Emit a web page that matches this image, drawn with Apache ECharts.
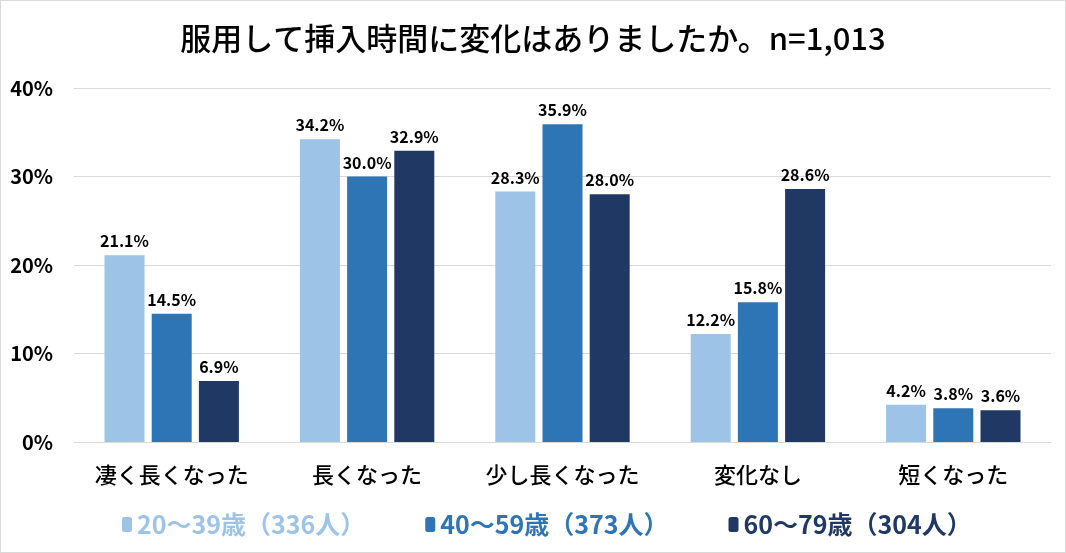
<!DOCTYPE html>
<html>
<head>
<meta charset="utf-8">
<script src="https://cdn.jsdelivr.net/npm/echarts@6/dist/echarts.min.js"></script>
<style>
  html, body { margin: 0; padding: 0; background: #fff; }
  #chart { width: 1066px; height: 553px; box-sizing: border-box; border: 1px solid #d9d9d9; }
</style>
</head>
<body>
<div id="chart"></div>
<script>
// chart data
const categories = ['凄く長くなった', '長くなった', '少し長くなった', '変化なし', '短くなった'];
const seriesNames = ['20～39歳（336人）', '40～59歳（373人）', '60～79歳（304人）'];
const age20 = [21.1, 34.2, 28.3, 12.2, 4.2];
const age40 = [14.5, 30.0, 35.9, 15.8, 3.8];
const age60 = [6.9, 32.9, 28.0, 28.6, 3.6];
const colors = ['#9dc3e6', '#2e75b6', '#203864'];

const font = '"Noto Sans CJK JP", "Noto Sans", sans-serif';

var chart = echarts.init(document.getElementById('chart'));

function makeSeries(name, data, idx) {
  return {
    name: name,
    type: 'bar',
    data: data,
    barWidth: 40,
    barGap: '18%',
    itemStyle: { color: colors[idx] },
    label: {
      show: true,
      position: 'top',
      distance: 6,
      color: '#000',
      fontFamily: font,
      fontWeight: 'bold',
      fontSize: 16,
      formatter: function (p) { return p.value.toFixed(1) + '%'; }
    }
  };
}

option = {
  animation: false,
  color: colors,
  title: {
    text: '服用して挿入時間に変化はありましたか。n=1,013',
    left: 'center',
    top: 17,
    textStyle: { fontFamily: font, fontSize: 31, fontWeight: 500, color: '#000' }
  },
  legend: {
    bottom: 10,
    left: 116,
    itemWidth: 10,
    itemHeight: 15,
    itemGap: 60,
    data: seriesNames.map(function (n, i) {
      return { name: n, textStyle: { color: colors[i] } };
    }),
    textStyle: { fontFamily: font, fontSize: 25, fontWeight: 'bold' }
  },
  grid: {
    left: 73,
    right: 14,
    top: 87,
    bottom: 110,
    containLabel: false
  },
  xAxis: {
    type: 'category',
    data: categories,
    axisTick: { show: false },
    axisLine: { lineStyle: { color: '#d9d9d9' } },
    axisLabel: { interval: 0, color: '#000', fontFamily: font, fontSize: 22, fontWeight: 500, margin: 22 }
  },
  yAxis: {
    type: 'value',
    min: 0,
    max: 40,
    interval: 10,
    axisLine: { show: false },
    axisTick: { show: false },
    splitLine: { lineStyle: { color: '#d9d9d9' } },
    axisLabel: {
      color: '#000',
      fontFamily: font,
      fontSize: 20,
      fontWeight: 'bold',
      margin: 21,
      formatter: '{value}%'
    }
  },
  series: [
    makeSeries(seriesNames[0], age20, 0),
    makeSeries(seriesNames[1], age40, 1),
    makeSeries(seriesNames[2], age60, 2)
  ]
};

chart.setOption(option);
</script>
</body>
</html>
